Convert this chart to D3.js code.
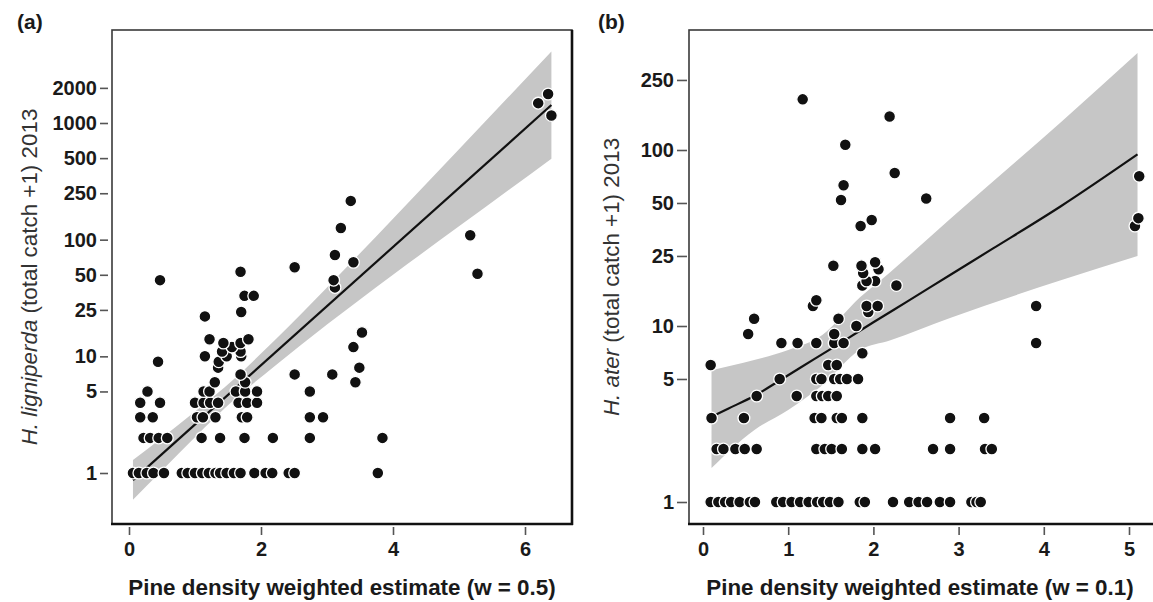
<!DOCTYPE html>
<html><head><meta charset="utf-8">
<script src="https://cdn.jsdelivr.net/npm/d3@7"></script>
<style>
body{margin:0;background:#fff}
text{font-family:"Liberation Sans",Arial,Helvetica,sans-serif}
</style>
</head><body>
<svg id="c" width="1153" height="602"></svg>
<script>
// ---------- tick labels ----------
const xTicksA = [0, 2, 4, 6];
const yTicksA = [1, 5, 10, 25, 50, 100, 250, 500, 1000, 2000];
const xTicksB = [0, 1, 2, 3, 4, 5];
const yTicksB = [1, 5, 10, 25, 50, 100, 250];

// ---------- panel (a): H. ligniperda vs pine density (w = 0.5) ----------
const pineA = [
  0.06,0.15,0.27,0.37,0.53,0.80,0.89,1.00,1.11,1.21,1.31,1.38,1.48,1.59,1.69,1.90,2.07,2.17,2.42,2.51,3.77,
  0.22,0.32,0.45,0.58,1.10,1.38,1.75,2.18,2.74,3.84,
  0.17,0.36,1.03,1.12,1.31,1.71,1.79,2.74,2.94,
  0.17,0.47,1.00,1.13,1.23,1.35,1.66,1.79,1.94,
  0.28,1.13,1.22,1.62,1.76,1.94,2.74,
  1.30,1.76,3.43,
  1.69,2.51,3.08,
  1.35,3.49,
  0.44,1.36,
  1.15,1.48,1.70,
  1.41,1.69,
  1.56,3.40,
  1.43,1.69,
  1.22,1.81,
  3.53,
  1.15,1.70,1.75,1.89,3.12,0.47,3.10,5.28,1.69,2.51,3.40,3.12,5.17,3.21,3.36,6.40,6.20,6.35
];
const catchA = [
  1,1,1,1,1,1,1,1,1,1,1,1,1,1,1,1,1,1,1,1,1,
  2,2,2,2,2,2,2,2,2,2,
  3,3,3,3,3,3,3,3,3,
  4,4,4,4,4,4,4,4,4,
  5,5,5,5,5,5,5,
  6,6,6,
  7,7,7,
  8,8,
  9,9,
  10,10,10,
  11,11,
  12,12,
  13,13,
  14,14,
  16,
  22,24,33,33,39,45,45,51,53,58,64,74,109,126,215,1160,1480,1770
];
const fitXA  = [0.06, 6.40];
const fitYA  = [0.87, 1425];
const bandXA  = [0.06, 0.5, 1.0, 1.6, 2.2, 3.0, 4.0, 5.0, 6.4];
const bandLoA = [0.59, 1.05, 2.03, 4.28, 8.2, 18.7, 50, 130, 494];
const bandHiA = [1.29, 2.01, 3.37, 6.47, 13.6, 39, 151, 596, 4110];

// ---------- panel (b): H. ater vs pine density (w = 0.1) ----------
const pineB = [
  0.09,0.18,0.26,0.33,0.43,0.55,0.61,0.86,0.94,1.04,1.14,1.24,1.34,1.41,1.49,1.59,1.84,1.90,2.23,2.42,2.53,2.63,2.78,2.90,3.15,3.21,3.26,
  0.16,0.24,0.38,0.49,0.63,1.33,1.43,1.51,1.63,1.87,2.02,2.70,2.90,3.31,3.39,
  0.10,0.48,1.31,1.39,1.57,1.63,1.87,2.90,3.30,
  0.63,1.10,1.33,1.40,1.47,1.57,
  0.90,1.33,1.39,1.54,1.61,1.69,1.82,
  0.09,1.47,1.57,
  1.87,
  0.92,1.11,1.33,1.54,1.65,3.91,
  0.53,1.54,
  1.80,
  0.60,1.59,
  1.94,
  1.29,1.92,2.05,3.91,
  1.33,
  1.87,2.27,2.02,1.92,1.88,2.06,1.53,1.86,2.02,
  1.85,5.07,1.98,5.11,1.62,2.62,1.65,5.12,2.25,1.67,2.19,1.17
];
const catchB = [
  1,1,1,1,1,1,1,1,1,1,1,1,1,1,1,1,1,1,1,1,1,1,1,1,1,1,1,
  2,2,2,2,2,2,2,2,2,2,2,2,2,2,2,
  3,3,3,3,3,3,3,3,3,
  4,4,4,4,4,4,
  5,5,5,5,5,5,5,
  6,6,6,
  7,
  8,8,8,8,8,8,
  9,9,
  10,
  11,11,
  12,
  13,13,13,13,
  14,
  17,17,18,18,20,21,22,22,23,
  37,37,40,41,52,53,63,71,74,107,155,194
];
const fitXB = [0.10, 0.30, 0.60, 0.90, 1.30, 1.70, 2.00, 2.40, 2.90, 3.40, 4.20, 5.10];
const fitYB = [3.05, 3.40, 4.00, 4.90, 6.46, 8.50, 10.5, 13.8, 19.5, 27.5, 47.9, 94.4];
const bandXB  = [0.10, 0.60, 1.00, 1.40, 1.84, 2.20, 2.90, 4.20, 5.10];
const bandLoB = [1.56, 2.56, 3.33, 4.60, 7.30, 8.30, 11.1, 18.2, 25.0];
const bandHiB = [5.60, 6.40, 7.30, 8.90, 14.5, 20.3, 40.5, 144, 356];

// ---------- drawing ----------
const svg = d3.select("#c");
const FONT = '"Liberation Sans",Arial,Helvetica,sans-serif';

function panel(o) {
  const g = svg.append("g");
  const x = d3.scaleLinear().domain(o.xAnchor).range(o.xPix);
  const y = d3.scaleLog().domain(o.yAnchor).range(o.yPix);

  // confidence band
  const band = o.bandX.map((v, i) => ({x: v, lo: o.bandLo[i], hi: o.bandHi[i]}));
  g.append("path").datum(band)
    .attr("d", d3.area().x(d => x(d.x)).y0(d => y(d.lo)).y1(d => y(d.hi)).curve(d3.curveMonotoneX))
    .attr("fill", "#c6c6c6");

  // fitted line
  const fit = o.fitX.map((v, i) => ({x: v, y: o.fitY[i]}));
  g.append("path").datum(fit)
    .attr("d", d3.line().x(d => x(d.x)).y(d => y(d.y)).curve(d3.curveMonotoneX))
    .attr("fill", "none").attr("stroke", "#111").attr("stroke-width", 2.2);

  // points
  const pts = o.px.map((v, i) => ({x: v, y: o.py[i]}));
  g.append("g").selectAll("circle").data(pts).join("circle")
    .attr("cx", d => x(d.x)).attr("cy", d => y(d.y)).attr("r", 5.9)
    .attr("fill", "#111").attr("stroke", "#fff").attr("stroke-width", 1.3);

  // box
  const b = o.box;
  g.append("rect").attr("x", b[0]).attr("y", b[1]).attr("width", b[2]-b[0]).attr("height", b[3]-b[1])
    .attr("fill", "none").attr("stroke", "#3a3a3a").attr("stroke-width", 1.6);
  g.append("line").attr("x1", b[2]).attr("x2", b[2]).attr("y1", b[1]).attr("y2", b[3]+1)
    .attr("stroke", "#111").attr("stroke-width", 2.6);
  g.append("line").attr("x1", b[0]-1).attr("x2", b[2]+1).attr("y1", b[3]).attr("y2", b[3])
    .attr("stroke", "#111").attr("stroke-width", 2.6);

  // axes
  const ya = g.append("g").attr("transform", `translate(${o.yAxisX},0)`)
    .call(d3.axisLeft(y).tickValues(o.yTicks).tickFormat(d3.format("d")).tickSize(o.yTickLen).tickPadding(3));
  const xa = g.append("g").attr("transform", `translate(0,${b[3]+3})`)
    .call(d3.axisBottom(x).tickValues(o.xTicks).tickFormat(d3.format("d")).tickSize(8).tickPadding(7));
  [ya, xa].forEach(a => {
    a.select(".domain").remove();
    a.selectAll(".tick line").attr("stroke", "#555").attr("stroke-width", 1.6);
    a.selectAll(".tick text").attr("fill", "#1a1a1a").style("font-family", FONT)
      .style("font-weight", "bold").style("font-size", "20px");
  });

  // panel letter
  g.append("text").attr("x", o.letterX).attr("y", 29).text(o.letter)
    .style("font-weight", "bold").style("font-size", "21px").attr("fill", "#1a1a1a");

  // x title
  g.append("text").attr("x", (b[0] + Math.min(b[2], 1153)) / 2 + (o.xTitleShift||0)).attr("y", 595)
    .attr("text-anchor", "middle").text(o.xTitle)
    .style("font-weight", "bold").style("font-size", "22.4px").attr("fill", "#1a1a1a");

  // y title
  const yt = g.append("text")
    .attr("transform", `translate(${o.yTitleX},${(b[1]+b[3])/2}) rotate(-90)`)
    .attr("text-anchor", "middle").style("font-size", "22.4px").attr("fill", "#333");
  yt.append("tspan").style("font-style", "italic").text(o.species);
  yt.append("tspan").text(" (total catch +1) 2013");
}

panel({
  letter: "(a)", letterX: 17,
  xAnchor: [0, 6], xPix: [129, 525],
  yAnchor: [1, 1000], yPix: [473, 123],
  box: [112, 30, 572, 524],
  yAxisX: 108, yTickLen: 8,
  xTicks: xTicksA, yTicks: yTicksA,
  px: pineA, py: catchA,
  fitX: fitXA, fitY: fitYA,
  bandX: bandXA, bandLo: bandLoA, bandHi: bandHiA,
  xTitle: "Pine density weighted estimate (w = 0.5)",
  species: "H. ligniperda", yTitleX: 37
});

panel({
  letter: "(b)", letterX: 598,
  xAnchor: [0, 5], xPix: [703, 1129],
  yAnchor: [1, 100], yPix: [502, 150],
  box: [689, 30, 1155, 524],
  yAxisX: 687, yTickLen: 10,
  xTicks: xTicksB, yTicks: yTicksB,
  px: pineB, py: catchB,
  fitX: fitXB, fitY: fitYB,
  bandX: bandXB, bandLo: bandLoB, bandHi: bandHiB,
  xTitle: "Pine density weighted estimate (w = 0.1)",
  species: "H. ater", yTitleX: 619, xTitleShift: -1
});
</script>
</body></html>
